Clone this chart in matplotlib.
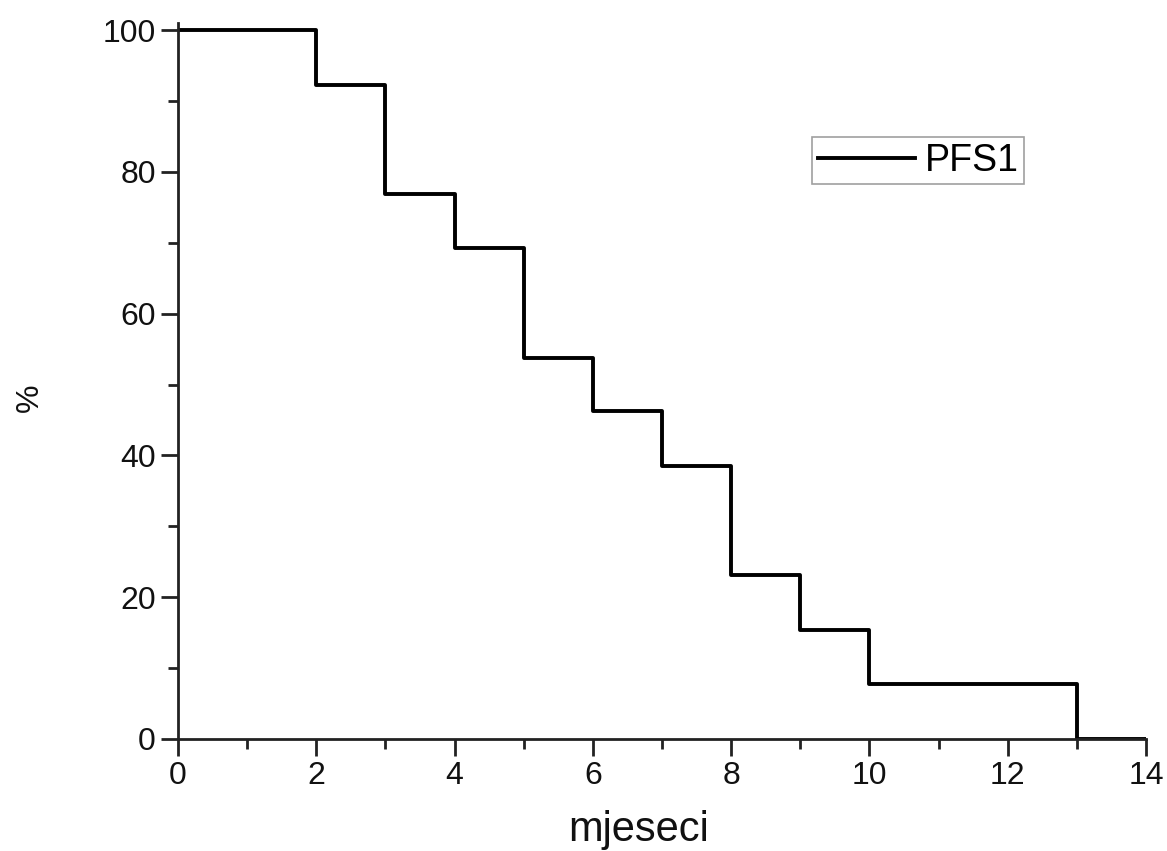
import matplotlib
matplotlib.use("Agg")
import matplotlib.pyplot as plt
from matplotlib.ticker import MultipleLocator

plt.rcParams['font.family'] = ['Liberation Sans', 'DejaVu Sans']

months = [0, 2, 3, 4, 5, 6, 7, 8, 9, 10, 13, 14]
pfs = [100, 92.3, 76.9, 69.2, 53.8, 46.2, 38.5, 23.1, 15.4, 7.7, 0, 0]
series_label = "PFS1"
x_label = "mjeseci"
y_label = "%"

fig = plt.figure(figsize=(11.67, 8.51), dpi=100)
ax = fig.add_axes([178/1167, 1-739/851, (1146-178)/1167, (739-23)/851])

ax.step(months, pfs, where='post', color='black', lw=2.8, label=series_label)

ax.set_xlim(0, 14)
ax.set_ylim(0, 101)
ax.xaxis.set_major_locator(MultipleLocator(2))
ax.xaxis.set_minor_locator(MultipleLocator(1))
ax.yaxis.set_major_locator(MultipleLocator(20))
ax.yaxis.set_minor_locator(MultipleLocator(10))

for s in ['top', 'right']:
    ax.spines[s].set_visible(False)
for s in ['left', 'bottom']:
    ax.spines[s].set_linewidth(2.0)
    ax.spines[s].set_color('#222222')

ax.tick_params(which='major', direction='out', length=12, width=2.0, labelsize=23, pad=4, colors='#222222')
ax.tick_params(which='minor', direction='out', length=7, width=2.0, colors='#222222')
ax.tick_params(axis='both', labelcolor='#111111')

ax.set_xlabel(x_label, fontsize=30, color='#111111')
ax.xaxis.set_label_coords(639/1167, 1-830/851, transform=fig.transFigure)
ax.set_ylabel(y_label, fontsize=23, color='#111111')
ax.yaxis.set_label_coords(30/1167, 1-398/851, transform=fig.transFigure)
ax.xaxis.label.set_verticalalignment('center')
ax.yaxis.label.set_verticalalignment('center')

leg = ax.legend(loc='upper left', bbox_to_anchor=(812/1167, 1-137/851),
                bbox_transform=fig.transFigure, fontsize=27, frameon=True,
                fancybox=False, handlelength=2.6, handletextpad=0.25,
                borderpad=0.15, borderaxespad=0)
leg.get_frame().set_edgecolor('#888888')
leg.get_frame().set_linewidth(1.2)

fig.savefig('out.png', dpi=100, facecolor='white')
